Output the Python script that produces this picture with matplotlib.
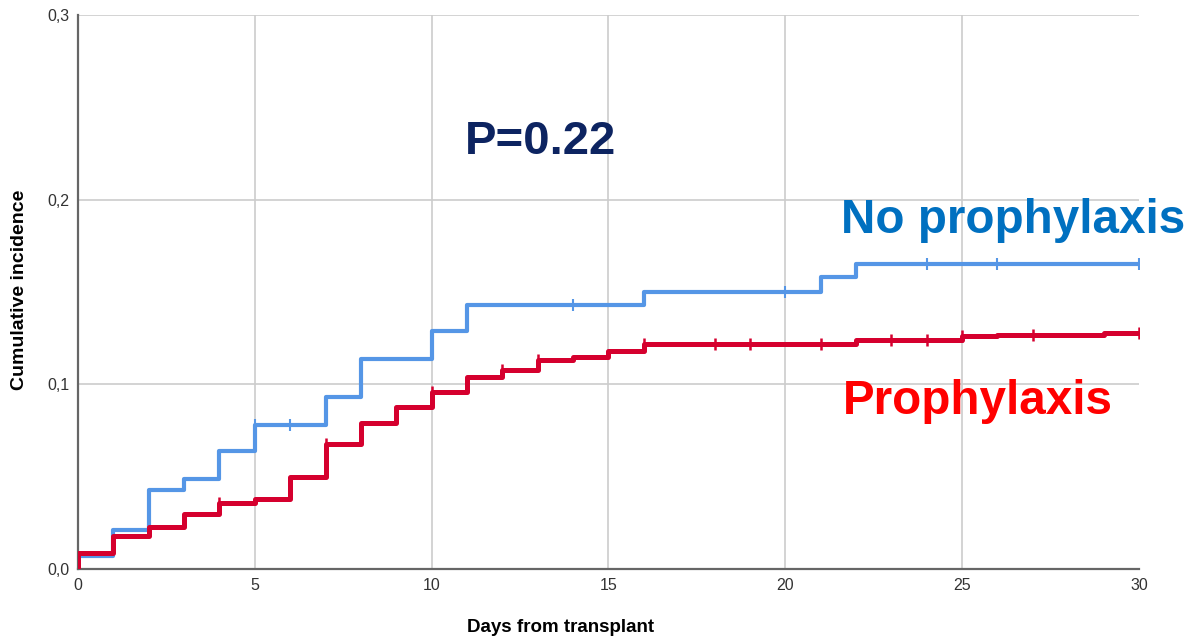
import numpy as np
import matplotlib
matplotlib.use("Agg")
import matplotlib.pyplot as plt

# Cumulative incidence steps
no_proph_days = [0, 0, 1, 2, 3, 4, 5, 7, 8, 10, 11, 16, 21, 22, 30]
no_proph_ci = [0.0, 0.007, 0.021, 0.043, 0.049, 0.064, 0.078, 0.093, 0.114,
               0.129, 0.143, 0.150, 0.158, 0.165, 0.165]
no_proph_censor = [5, 6, 14, 20, 24, 26, 30]

proph_days = [0, 0, 1, 2, 3, 4, 5, 6, 7, 8, 9, 10, 11, 12, 13, 14, 15, 16,
              22, 25, 26, 29, 30]
proph_ci = [0.0, 0.009, 0.018, 0.023, 0.030, 0.036, 0.038, 0.050, 0.068,
            0.079, 0.088, 0.096, 0.104, 0.108, 0.113, 0.115, 0.118, 0.122,
            0.124, 0.126, 0.1265, 0.128, 0.128]
proph_censor = [4, 7, 10, 12, 13, 16, 18, 19, 21, 23, 24, 25, 27, 30]

x_ticks = [0, 5, 10, 15, 20, 25, 30]
y_ticks = [0.0, 0.1, 0.2, 0.3]
y_tick_labels = ["0,0", "0,1", "0,2", "0,3"]

BLUE = "#5596e6"
RED = "#d5002e"
SANS = ["Liberation Sans", "DejaVu Sans"]


def value_at(days, ci, t):
    # step function lookup (post)
    idx = np.searchsorted(days, t, side="right") - 1
    return np.asarray(ci)[idx]


fig = plt.figure(figsize=(11.91, 6.4), dpi=100)
ax = fig.add_axes([0.0655, 0.1105, 0.8908, 0.8665])

ax.step(no_proph_days, no_proph_ci, where="post", color=BLUE, lw=3.0, zorder=3)
ax.step(proph_days, proph_ci, where="post", color=RED, lw=3.6, zorder=4)

ax.plot(no_proph_censor, value_at(no_proph_days, no_proph_ci, no_proph_censor),
        ls="none", marker="|", ms=8, mew=1.5, color=BLUE, zorder=3)
ax.plot(proph_censor, value_at(proph_days, proph_ci, proph_censor),
        ls="none", marker="|", ms=8, mew=1.8, color=RED, zorder=4)

ax.set_xlim(0, 30)
ax.set_ylim(0, 0.3)
ax.set_xticks(x_ticks)
ax.set_yticks(y_ticks)
ax.set_yticklabels(y_tick_labels)
ax.tick_params(length=0, pad=6, labelsize=11.5, labelcolor="#333333")
for lab in ax.get_xticklabels() + ax.get_yticklabels():
    lab.set_family(SANS)

ax.grid(True, color="#cccccc", lw=1.2, zorder=0)
ax.set_axisbelow(True)
# no vertical gridline on the right edge
ax.get_xgridlines()[-1].set_visible(False)
for s in ["top", "right"]:
    ax.spines[s].set_visible(False)
for s in ["left", "bottom"]:
    ax.spines[s].set_color("#666666")
    ax.spines[s].set_linewidth(1.6)

fig.text(0.016, 0.547, "Cumulative incidence", rotation=90, ha="center",
         va="center", fontsize=14, fontweight="bold", family=SANS)
fig.text(0.471, 0.02, "Days from transplant", ha="center", va="center",
         fontsize=13.5, fontweight="bold", family=SANS)

# annotations
fig.text(0.39, 0.778, "P=0.22", fontsize=34, fontweight="bold",
         color="#0d2461", family=SANS, va="center")
fig.text(0.706, 0.655, "No prophylaxis", fontsize=34.3, fontweight="bold",
         color="#0070c0", family=SANS, va="center")
fig.text(0.708, 0.373, "Prophylaxis", fontsize=34.3, fontweight="bold",
         color="#ff0000", family=SANS, va="center")

fig.savefig("out.png", dpi=100)
